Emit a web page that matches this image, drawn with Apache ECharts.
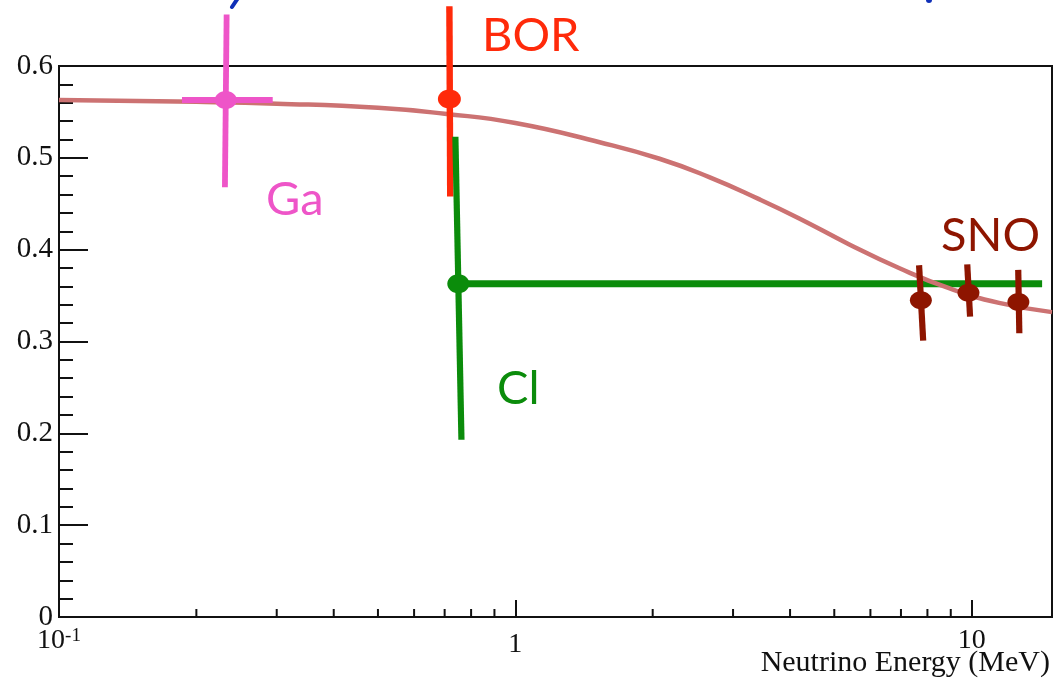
<!DOCTYPE html>
<html>
<head>
<meta charset="utf-8">
<script src="https://cdn.jsdelivr.net/npm/echarts@6/dist/echarts.min.js"></script>
<style>
  html, body { margin: 0; padding: 0; background: #fff; }
  #chart { width: 1053px; height: 678px; }
</style>
</head>
<body>
<div id="chart"></div>
<script>
// Survival probability curve vs neutrino energy (MeV)
const curveEnergy = [0.1, 0.2, 0.3, 0.5, 0.7, 1, 1.53, 2.07, 2.66, 3.42, 4.19, 5.38, 6.93, 8.92, 11.48, 15];
const curveProb   = [0.563, 0.561, 0.559, 0.5545, 0.548, 0.538, 0.517, 0.499, 0.479, 0.455, 0.434, 0.406, 0.380, 0.358, 0.342, 0.332];

// Experimental points: central energy / value, vertical error range,
// energies at the top and bottom of each (hand-drawn) error bar,
// and the horizontal energy range where one is drawn.
const expNames   = ['Ga', 'BOR', 'Cl', 'SNO', 'SNO', 'SNO'];
const expEnergy  = [0.232, 0.717, 0.750, 7.74, 9.84, 12.66];
const expValue   = [0.563, 0.564, 0.363, 0.345, 0.353, 0.343];
const expLow     = [0.468, 0.458, 0.193, 0.301, 0.327, 0.309];
const expHigh    = [0.656, 0.665, 0.523, 0.383, 0.384, 0.378];
const barTopE    = [0.233, 0.717, 0.739, 7.67, 9.78, 12.65];
const barBottomE = [0.231, 0.720, 0.762, 7.83, 9.92, 12.72];
const expELow    = [0.186, NaN, 0.750, NaN, NaN, NaN];
const expEHigh   = [0.294, NaN, 14.27, NaN, NaN, NaN];

// Axis tick values
const yTickValues = [0, 0.1, 0.2, 0.3, 0.4, 0.5, 0.6];
const xMinorTicks = [0.2, 0.3, 0.4, 0.5, 0.6, 0.7, 0.8, 0.9, 2, 3, 4, 5, 6, 7, 8, 9];

const expStyle = {
  Ga:  { color: '#ee55c8', bar: 5.8, rx: 11, ry: 9 },
  BOR: { color: '#ff2a0a', bar: 6.4, rx: 11.5, ry: 9.5 },
  Cl:  { color: '#0b8c0b', bar: 6.2, rx: 11, ry: 9.5 },
  SNO: { color: '#8e1500', bar: 6.2, rx: 11, ry: 9 }
};

const serif = 'Liberation Serif, Times New Roman, serif';
const hand = 'Lato, sans-serif';

const chart = echarts.init(document.getElementById('chart'), null, { renderer: 'canvas' });

chart.setOption({
  animation: false,
  backgroundColor: '#fff',
  grid: {
    left: 59, right: 1, top: 66, bottom: 58,
    containLabel: false,
    show: true, borderColor: '#111', borderWidth: 2, backgroundColor: 'transparent'
  },
  xAxis: {
    type: 'log', logBase: 10, min: 0.1, max: 15,
    name: 'Neutrino Energy (MeV)',
    nameLocation: 'end',
    nameGap: -2,
    nameMoveOverlap: false,
    nameTextStyle: {
      fontFamily: serif, fontSize: 30, color: '#111',
      align: 'right', verticalAlign: 'top', padding: [31, 0, 0, 0]
    },
    axisLine: { lineStyle: { color: '#111', width: 2 } },
    axisTick: { inside: true, length: 17, lineStyle: { color: '#111', width: 2 } },
    splitLine: { show: false },
    axisLabel: {
      showMinLabel: true, showMaxLabel: false,
      margin: 10, color: '#111', fontFamily: serif, fontSize: 28,
      formatter: function (v) {
        if (Math.abs(v - 0.1) < 1e-9) return '{b|10}{s|-1}';
        if (Math.abs(v - 1) < 1e-9) return '{c|1}';
        if (Math.abs(v - 10) < 1e-9) return '{d|10}';
        return '';
      },
      rich: {
        b: { fontFamily: serif, fontSize: 28, color: '#111' },
        c: { fontFamily: serif, fontSize: 28, color: '#111', padding: [4, 0, 0, 0] },
        d: { fontFamily: serif, fontSize: 28, color: '#111', padding: [0, 0, 4, 0] },
        s: { fontFamily: serif, fontSize: 19, color: '#111', verticalAlign: 'top', padding: [0, 0, 8, 0] }
      }
    }
  },
  yAxis: {
    type: 'value', min: 0, max: 0.6, interval: 0.1,
    axisLine: { show: true, lineStyle: { color: '#111', width: 2 } },
    axisTick: { show: true, inside: true, length: 29, lineStyle: { color: '#111', width: 2 } },
    minorTick: { show: true, splitNumber: 5, length: 14, lineStyle: { color: '#111', width: 2 } },
    splitLine: { show: false },
    axisLabel: {
      margin: 6, color: '#111', fontFamily: serif, fontSize: 29,
      formatter: function (v) {
        const t = yTickValues.find(function (k) { return Math.abs(k - v) < 1e-9; });
        return t === 0 ? '0' : (t !== undefined ? t.toFixed(1) : '');
      }
    }
  },
  graphic: [
    // experiment names
    { type: 'text', left: 266, top: 176, style: { text: 'Ga', font: '47px ' + hand, fill: expStyle.Ga.color } },
    { type: 'text', left: 482, top: 12, style: { text: 'BOR', font: '47px ' + hand, fill: expStyle.BOR.color } },
    { type: 'text', left: 497, top: 365, style: { text: 'Cl', font: '47px ' + hand, fill: expStyle.Cl.color } },
    { type: 'text', left: 941, top: 212, style: { text: 'SNO', font: '47px ' + hand, fill: expStyle.SNO.color } },
    // ink strokes along the top edge
    { type: 'line', shape: { x1: 238, y1: -2, x2: 232, y2: 7 }, style: { stroke: '#1030b8', lineWidth: 4, lineCap: 'round' } },
    { type: 'circle', shape: { cx: 929, cy: 0, r: 3 }, style: { fill: '#1030b8' } }
  ],
  series: [
    {
      // Cl horizontal band drawn beneath the curve
      type: 'custom',
      clip: false,
      z: 1,
      data: expNames.map(function (n, i) { return [expEnergy[i], expValue[i], i]; }).filter(function (d) { return expNames[d[2]] === 'Cl'; }),
      encode: { x: 0, y: 1 },
      renderItem: function (params, api) {
        const i = api.value(2);
        const st = expStyle[expNames[i]];
        const a = api.coord([expELow[i], expValue[i]]);
        const b = api.coord([expEHigh[i], expValue[i]]);
        return { type: 'line', shape: { x1: a[0], y1: a[1], x2: b[0], y2: b[1] },
                 style: { stroke: st.color, lineWidth: 7 } };
      }
    },
    {
      type: 'line',
      z: 2,
      data: curveEnergy.map(function (e, i) { return [e, curveProb[i]]; }),
      smooth: 0.5,
      showSymbol: false,
      lineStyle: { color: '#cc7272', width: 4.5 }
    },
    {
      type: 'custom',
      clip: false,
      z: 3,
      data: expNames.map(function (n, i) { return [expEnergy[i], expValue[i], i]; }),
      encode: { x: 0, y: 1 },
      renderItem: function (params, api) {
        const i = api.value(2);
        const st = expStyle[expNames[i]];
        const c = api.coord([expEnergy[i], expValue[i]]);
        const top = api.coord([barTopE[i], expHigh[i]]);
        const bot = api.coord([barBottomE[i], expLow[i]]);
        const children = [
          { type: 'line', shape: { x1: top[0], y1: top[1], x2: bot[0], y2: bot[1] },
            style: { stroke: st.color, lineWidth: st.bar } }
        ];
        if (!isNaN(expELow[i]) && expNames[i] !== 'Cl') {
          const a = api.coord([expELow[i], expValue[i]]);
          const b = api.coord([expEHigh[i], expValue[i]]);
          children.push({ type: 'line', shape: { x1: a[0], y1: a[1], x2: b[0], y2: b[1] },
                          style: { stroke: st.color, lineWidth: 6 } });
        }
        children.push({ type: 'ellipse', shape: { cx: c[0], cy: c[1], rx: st.rx, ry: st.ry },
                        style: { fill: st.color } });
        return { type: 'group', children: children };
      }
    },
    {
      // minor ticks of the logarithmic energy axis
      type: 'custom',
      clip: false,
      z: 4,
      silent: true,
      data: xMinorTicks.map(function (e) { return [e, 0]; }),
      encode: { x: 0, y: 1 },
      renderItem: function (params, api) {
        const p = api.coord([api.value(0), 0]);
        return { type: 'line', shape: { x1: p[0], y1: p[1], x2: p[0], y2: p[1] - 8 },
                 style: { stroke: '#111', lineWidth: 2 } };
      }
    }
  ]
});
</script>
</body>
</html>
